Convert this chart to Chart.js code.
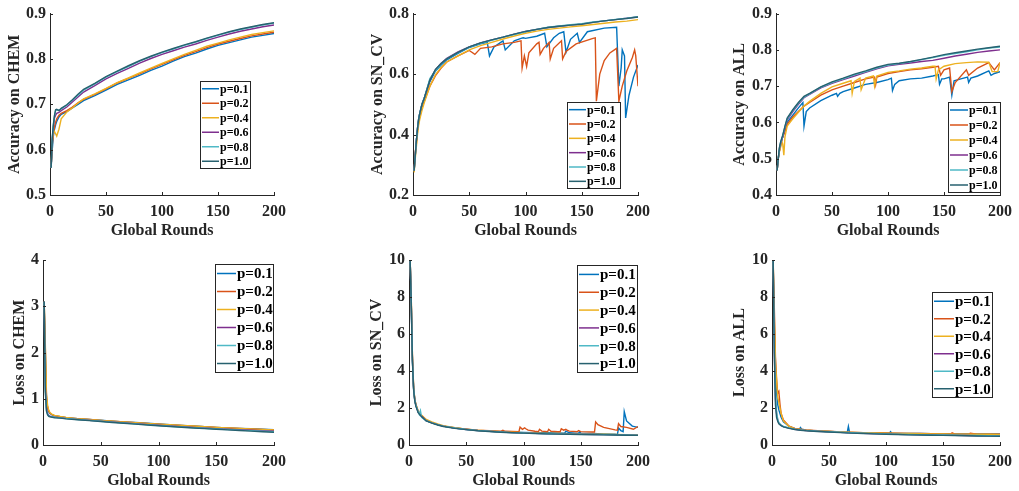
<!DOCTYPE html>
<html>
<head>
<meta charset="utf-8">
<script src="https://cdn.jsdelivr.net/npm/chart.js@4.4.0/dist/chart.umd.min.js"></script>
<style>
body{margin:0;background:#fff;width:1019px;height:491px;overflow:hidden;position:relative}
.pan{position:absolute}
</style>
</head>
<body>
<div class="pan" id="p1"><canvas></canvas></div>
<div class="pan" id="p2"><canvas></canvas></div>
<div class="pan" id="p3"><canvas></canvas></div>
<div class="pan" id="p4"><canvas></canvas></div>
<div class="pan" id="p5"><canvas></canvas></div>
<div class="pan" id="p6"><canvas></canvas></div>
<script>
// ---- data ----
var labels = ['p=0.1','p=0.2','p=0.4','p=0.6','p=0.8','p=1.0'];
var colors = ['#0072BD','#D95319','#EDB120','#7E2F8E','#4FB9C6','#27616F'];
var xTicks = [0, 50, 100, 150, 200];

var rounds = [1,2,3,4,5,6,8,10,15,20,25,30,40,50,60,70,80,90,100,110,120,130,140,150,160,170,180,190,200];

// Accuracy on CHEM
var accChem1  = [0.56,0.60,0.63,0.645,0.655,0.662,0.672,0.678,0.684,0.692,0.700,0.708,0.719,0.731,0.744,0.754,0.764,0.775,0.784,0.795,0.805,0.813,0.822,0.830,0.836,0.842,0.848,0.852,0.856];
var accChem2  = [0.56,0.61,0.635,0.65,0.66,0.668,0.676,0.68,0.686,0.694,0.703,0.711,0.722,0.734,0.747,0.757,0.767,0.778,0.788,0.798,0.808,0.816,0.825,0.833,0.839,0.845,0.851,0.855,0.859];
var accChem4  = [0.56,0.62,0.635,0.64,0.635,0.63,0.645,0.668,0.683,0.692,0.703,0.712,0.723,0.735,0.748,0.758,0.769,0.78,0.79,0.8,0.81,0.819,0.828,0.835,0.842,0.848,0.854,0.858,0.862];
var accChem6  = [0.56,0.62,0.65,0.67,0.676,0.68,0.682,0.686,0.694,0.705,0.716,0.727,0.741,0.756,0.768,0.779,0.791,0.801,0.81,0.818,0.826,0.833,0.841,0.848,0.855,0.861,0.866,0.871,0.875];
var accChem8  = [0.56,0.625,0.655,0.675,0.686,0.688,0.687,0.69,0.698,0.709,0.72,0.731,0.745,0.76,0.772,0.783,0.795,0.805,0.814,0.822,0.83,0.837,0.845,0.852,0.859,0.865,0.87,0.875,0.879];
var accChem10 = [0.56,0.625,0.655,0.675,0.688,0.689,0.686,0.691,0.699,0.71,0.722,0.733,0.746,0.761,0.773,0.785,0.796,0.806,0.815,0.823,0.831,0.838,0.846,0.853,0.86,0.866,0.871,0.876,0.88];

// Accuracy on SN_CV
var accSnR1  = [1,2,3,4,5,6,8,10,15,20,25,30,40,50,60,66,68,72,78,80,82,90,96,98,100,110,117,119,125,130,134,136,140,146,148,155,170,181,183,185,186,188,189,192,196,200];
var accSn1   = [0.28,0.33,0.38,0.42,0.45,0.47,0.5,0.52,0.575,0.61,0.63,0.647,0.668,0.688,0.7,0.705,0.66,0.69,0.705,0.71,0.68,0.71,0.718,0.72,0.718,0.725,0.735,0.69,0.72,0.735,0.74,0.672,0.715,0.735,0.705,0.74,0.752,0.755,0.56,0.62,0.68,0.66,0.455,0.53,0.59,0.63];
var accSnR2  = [1,2,3,4,5,6,8,10,15,20,25,30,40,50,55,60,70,80,90,96,97,99,101,103,110,112,113,116,121,122,125,132,133,136,145,160,162,163,166,170,175,181,183,186,190,195,197,198,200];
var accSn2   = [0.28,0.34,0.37,0.41,0.44,0.46,0.49,0.51,0.56,0.595,0.62,0.64,0.66,0.678,0.665,0.685,0.69,0.7,0.705,0.71,0.62,0.66,0.625,0.67,0.7,0.705,0.665,0.685,0.705,0.65,0.685,0.71,0.65,0.675,0.7,0.718,0.72,0.51,0.6,0.645,0.67,0.685,0.51,0.56,0.61,0.655,0.68,0.66,0.56];
var accSn4   = [0.275,0.32,0.36,0.4,0.43,0.45,0.48,0.505,0.56,0.598,0.622,0.64,0.66,0.68,0.694,0.705,0.716,0.726,0.735,0.742,0.748,0.752,0.756,0.76,0.764,0.768,0.772,0.775,0.78];
var accSn6   = [0.28,0.33,0.38,0.42,0.45,0.47,0.5,0.52,0.58,0.615,0.636,0.652,0.673,0.69,0.703,0.713,0.722,0.732,0.741,0.748,0.754,0.758,0.762,0.766,0.771,0.776,0.78,0.785,0.789];
var accSn8   = [0.28,0.33,0.38,0.42,0.45,0.47,0.5,0.52,0.585,0.612,0.634,0.65,0.671,0.689,0.702,0.712,0.722,0.731,0.74,0.748,0.755,0.759,0.763,0.767,0.772,0.776,0.781,0.785,0.79];
var accSn10  = [0.28,0.33,0.38,0.42,0.45,0.47,0.5,0.52,0.58,0.615,0.635,0.65,0.672,0.69,0.703,0.713,0.722,0.732,0.741,0.748,0.754,0.758,0.762,0.765,0.771,0.776,0.78,0.784,0.789];

// Accuracy on ALL
var accAllR1 = [1,2,3,4,5,6,8,10,15,20,24,25,27,30,40,50,54,55,57,60,70,80,90,100,103,104,106,110,120,130,140,145,146,148,150,155,157,159,165,171,172,174,180,190,192,195,200];
var accAll1  = [0.468,0.5,0.52,0.535,0.55,0.56,0.58,0.6,0.62,0.64,0.655,0.59,0.63,0.64,0.66,0.675,0.68,0.672,0.68,0.685,0.695,0.705,0.71,0.718,0.722,0.688,0.705,0.715,0.72,0.722,0.728,0.732,0.705,0.72,0.72,0.725,0.675,0.715,0.72,0.725,0.71,0.722,0.728,0.742,0.73,0.735,0.74];
var accAllR2 = [1,2,3,4,5,6,8,10,15,20,25,30,40,50,60,70,80,88,89,90,100,110,120,130,140,145,147,150,155,157,160,170,172,180,190,195,200];
var accAll2  = [0.468,0.5,0.52,0.535,0.55,0.56,0.575,0.595,0.615,0.63,0.645,0.655,0.675,0.69,0.7,0.71,0.72,0.725,0.705,0.725,0.735,0.74,0.745,0.748,0.752,0.755,0.73,0.745,0.75,0.685,0.71,0.745,0.73,0.75,0.765,0.745,0.765];
var accAllR4 = [1,2,3,4,5,6,7,8,10,15,20,25,30,40,50,60,67,68,70,75,76,80,87,88,90,100,110,120,130,140,142,143,145,150,160,170,180,190,193,195,198,200];
var accAll4  = [0.468,0.5,0.52,0.53,0.55,0.54,0.51,0.56,0.59,0.61,0.628,0.645,0.658,0.68,0.698,0.708,0.715,0.68,0.713,0.722,0.69,0.722,0.728,0.70,0.728,0.738,0.742,0.747,0.75,0.755,0.755,0.72,0.745,0.755,0.762,0.765,0.767,0.766,0.74,0.74,0.74,0.765];
var accAll6  = [0.468,0.5,0.525,0.54,0.55,0.56,0.585,0.607,0.63,0.65,0.668,0.677,0.695,0.708,0.718,0.728,0.738,0.748,0.756,0.76,0.764,0.768,0.771,0.777,0.783,0.788,0.793,0.797,0.8];
var accAll8  = [0.468,0.5,0.528,0.543,0.553,0.563,0.588,0.61,0.633,0.653,0.67,0.679,0.697,0.71,0.72,0.731,0.74,0.75,0.758,0.762,0.767,0.773,0.779,0.785,0.79,0.795,0.8,0.805,0.808];
var accAll10 = [0.468,0.5,0.53,0.545,0.555,0.565,0.59,0.612,0.635,0.655,0.672,0.68,0.698,0.712,0.722,0.733,0.742,0.752,0.76,0.763,0.768,0.774,0.78,0.787,0.792,0.797,0.802,0.806,0.81];

// Loss on CHEM
var lossChem1  = [3.1,2.0,1.0,0.8,0.72,0.68,0.65,0.63,0.61,0.59,0.58,0.57,0.555,0.535,0.515,0.5,0.485,0.47,0.455,0.44,0.425,0.41,0.395,0.38,0.37,0.36,0.35,0.34,0.33];
var lossChem2  = [3.1,2.1,1.05,0.82,0.73,0.69,0.655,0.635,0.612,0.592,0.58,0.568,0.55,0.53,0.512,0.496,0.48,0.465,0.45,0.436,0.422,0.408,0.394,0.38,0.368,0.357,0.346,0.336,0.326];
var lossChem4  = [3.1,2.2,1.1,0.85,0.75,0.7,0.66,0.64,0.615,0.595,0.582,0.57,0.552,0.532,0.514,0.498,0.482,0.467,0.452,0.438,0.424,0.41,0.396,0.382,0.37,0.359,0.348,0.338,0.328];
var lossChem6  = [3.1,1.3,0.8,0.68,0.64,0.625,0.612,0.603,0.59,0.575,0.565,0.555,0.536,0.517,0.498,0.48,0.462,0.445,0.428,0.412,0.397,0.382,0.368,0.355,0.342,0.33,0.318,0.307,0.296];
var lossChem8  = [3.1,1.2,0.75,0.66,0.63,0.62,0.61,0.6,0.587,0.572,0.562,0.551,0.532,0.513,0.494,0.475,0.457,0.44,0.423,0.406,0.39,0.375,0.361,0.347,0.334,0.322,0.31,0.299,0.288];
var lossChem10 = [3.1,1.15,0.73,0.65,0.62,0.61,0.6,0.59,0.58,0.565,0.555,0.545,0.526,0.507,0.488,0.469,0.451,0.433,0.416,0.399,0.383,0.368,0.353,0.339,0.326,0.313,0.3,0.288,0.276];

// Loss on SN_CV
var lossSnR1 = [1,2,3,4,5,6,8,10,15,20,25,30,40,50,60,70,80,90,100,110,120,130,136,137,140,148,149,150,160,170,180,182,183,185,187,188,190,195,200];
var lossSn1  = [10,7.6,4.6,3.1,2.45,2.15,1.8,1.62,1.32,1.2,1.1,1.02,0.92,0.85,0.79,0.75,0.72,0.7,0.68,0.67,0.66,0.65,0.64,0.75,0.66,0.63,0.72,0.64,0.62,0.6,0.58,0.56,0.92,0.78,0.72,1.8,1.3,1.02,0.95];
var lossSnR2 = [1,2,3,4,5,6,8,10,15,20,25,30,40,50,60,70,80,82,84,90,96,97,99,101,102,104,110,113,114,116,121,122,124,130,132,133,135,137,138,140,147,148,150,160,162,163,165,170,180,182,183,185,190,196,200];
var lossSn2  = [10,7.8,4.8,3.2,2.5,2.2,1.8,1.65,1.35,1.2,1.1,1.02,0.93,0.86,0.8,0.77,0.74,0.8,0.74,0.73,0.72,0.97,0.85,0.93,0.88,0.8,0.74,0.72,0.85,0.75,0.72,0.85,0.74,0.72,0.72,0.88,0.8,0.85,0.8,0.75,0.72,0.78,0.72,0.7,0.7,1.25,1.1,0.95,0.82,0.8,1.15,1.0,0.95,0.85,1.0];
var lossSn4  = [10,7.8,4.8,3.2,2.5,2.2,1.85,1.68,1.38,1.25,1.14,1.05,0.94,0.86,0.8,0.76,0.72,0.69,0.67,0.65,0.63,0.62,0.61,0.6,0.59,0.58,0.57,0.56,0.55];
var lossSn6  = [10,7.6,4.6,3.05,2.45,2.15,1.78,1.62,1.32,1.2,1.1,1.02,0.91,0.84,0.78,0.74,0.7,0.67,0.65,0.63,0.61,0.6,0.59,0.58,0.57,0.56,0.55,0.54,0.53];
var lossSnR8 = [1,2,3,4,5,6,8,9,10,11,12,15,20,25,30,40,50,60,70,80,90,100,110,120,130,140,150,160,170,180,190,200];
var lossSn8  = [10,7.6,4.6,3.1,2.45,2.15,1.8,1.65,1.85,1.5,1.45,1.32,1.2,1.1,1.02,0.92,0.84,0.78,0.74,0.7,0.67,0.65,0.63,0.61,0.6,0.59,0.58,0.57,0.56,0.55,0.54,0.53];
var lossSn10 = [10,7.5,4.5,3.0,2.4,2.1,1.75,1.6,1.3,1.18,1.08,1.0,0.9,0.83,0.77,0.73,0.69,0.66,0.64,0.62,0.6,0.59,0.58,0.57,0.56,0.55,0.54,0.53,0.52];

// Loss on ALL
var lossAllR1 = [1,2,3,4,5,6,8,10,15,20,24,25,26,30,40,50,60,66,67,68,80,90,100,103,104,105,110,120,130,140,150,160,170,180,190,200];
var lossAll1  = [10,6.5,3.8,2.8,2.2,1.9,1.5,1.25,1.0,0.88,0.86,0.95,0.85,0.8,0.76,0.73,0.7,0.68,1.0,0.68,0.66,0.65,0.64,0.64,0.72,0.64,0.63,0.62,0.62,0.61,0.61,0.6,0.6,0.6,0.6,0.6];
var lossAllR2 = [1,2,3,4,5,6,7,8,10,15,20,25,30,40,50,60,70,80,90,100,110,120,130,140,150,157,158,160,170,173,174,180,190,200];
var lossAll2  = [10,7.5,4.8,3.6,2.8,2.9,2.2,1.7,1.35,1.02,0.9,0.85,0.81,0.77,0.74,0.71,0.69,0.67,0.66,0.65,0.64,0.63,0.62,0.61,0.6,0.6,0.66,0.6,0.59,0.6,0.64,0.59,0.58,0.58];
var lossAll4  = [10,7.0,4.5,3.5,2.6,2.3,1.7,1.3,1.0,0.88,0.84,0.8,0.76,0.73,0.7,0.68,0.66,0.65,0.64,0.63,0.62,0.61,0.6,0.6,0.59,0.59,0.58,0.58,0.57];
var lossAll6  = [10,5.2,2.5,1.7,1.35,1.18,1.06,0.99,0.91,0.85,0.81,0.78,0.74,0.71,0.68,0.65,0.63,0.61,0.59,0.575,0.56,0.55,0.54,0.53,0.52,0.51,0.5,0.49,0.48];
var lossAll8  = [10,5.5,2.8,1.8,1.4,1.2,1.08,1.0,0.92,0.86,0.82,0.79,0.75,0.72,0.69,0.66,0.64,0.62,0.6,0.585,0.57,0.56,0.55,0.54,0.53,0.52,0.51,0.5,0.49];
var lossAll10 = [10,5.0,2.2,1.5,1.28,1.15,1.05,0.98,0.9,0.84,0.8,0.77,0.73,0.7,0.67,0.64,0.62,0.6,0.58,0.565,0.55,0.54,0.53,0.52,0.51,0.5,0.49,0.48,0.47];

// ---- drawing ----
Chart.defaults.font.family = "'Liberation Serif', 'Times New Roman', serif";
Chart.defaults.font.size = 16;
Chart.defaults.font.weight = 'bold';
Chart.defaults.color = '#262626';

// small inward tick marks like matlab
var inTicks = {
  id: 'inTicks',
  afterDraw: function(chart) {
    var a = chart.chartArea, ctx = chart.ctx;
    ctx.save();
    ctx.strokeStyle = '#262626';
    ctx.lineWidth = 1;
    chart.scales.x.ticks.forEach(function(t) {
      var px = Math.round(chart.scales.x.getPixelForValue(t.value)) + 0.5;
      ctx.beginPath(); ctx.moveTo(px, a.bottom); ctx.lineTo(px, a.bottom - 3); ctx.stroke();
    });
    chart.scales.y.ticks.forEach(function(t) {
      var py = Math.round(chart.scales.y.getPixelForValue(t.value)) + 0.5;
      ctx.beginPath(); ctx.moveTo(a.left, py); ctx.lineTo(a.left + 3, py); ctx.stroke();
    });
    ctx.restore();
  }
};

// boxed legend inside the axes
var boxLegend = {
  id: 'boxLegend',
  afterDraw: function(chart, args, o) {
    var ctx = chart.ctx;
    var x = o.x, y = o.y, w = o.w, h = o.h;
    ctx.save();
    ctx.fillStyle = '#fff';
    ctx.fillRect(x, y, w, h);
    ctx.strokeStyle = '#262626';
    ctx.lineWidth = 1;
    ctx.strokeRect(Math.round(x) + 0.5, Math.round(y) + 0.5, w, h);
    var rh = h / 6;
    ctx.font = 'bold ' + o.fs + "px 'Liberation Serif'";
    ctx.textBaseline = 'middle';
    ctx.textAlign = 'left';
    for (var i = 0; i < 6; i++) {
      var cy = y + rh * (i + 0.5) + 0.5;
      ctx.strokeStyle = colors[i];
      ctx.lineWidth = 1.5;
      ctx.beginPath(); ctx.moveTo(x + 2, cy); ctx.lineTo(x + 2 + o.ll, cy); ctx.stroke();
      ctx.fillStyle = '#000';
      ctx.fillText(labels[i], x + 3 + o.ll, cy + 1);
    }
    ctx.restore();
  }
};

function panel(id, box, area, yt, ymin, ymax, ystep, dec, series, leg) {
  var div = document.getElementById(id);
  div.style.left = box[0] + 'px';
  div.style.top = box[1] + 'px';
  div.style.width = box[2] + 'px';
  div.style.height = box[3] + 'px';
  var ds = [];
  for (var i = 0; i < 6; i++) {
    var pts = [];
    for (var j = 0; j < series[i][0].length; j++) {
      pts.push({x: series[i][0][j], y: series[i][1][j]});
    }
    ds.push({label: labels[i], data: pts, borderColor: colors[i], borderWidth: 1.4,
      pointRadius: 0, tension: 0, fill: false, order: 5 - i});
  }
  new Chart(div.querySelector('canvas'), {
    type: 'line',
    data: {datasets: ds},
    options: {
      responsive: true, maintainAspectRatio: false, animation: false,
      layout: {padding: {top: area[1] - box[1], right: box[0] + box[2] - area[2], left: 0, bottom: 0}},
      plugins: {
        legend: {display: false}, tooltip: {enabled: false},
        boxLegend: {x: leg[0] - box[0], y: leg[1] - box[1], w: leg[2], h: leg[3], fs: leg[4], ll: leg[5]}
      },
      scales: {
        x: {
          type: 'linear', min: 0, max: 200,
          afterBuildTicks: function(s) { s.ticks = xTicks.map(function(v) { return {value: v}; }); },
          ticks: {padding: 7, maxRotation: 0},
          grid: {display: true, drawOnChartArea: false, drawTicks: false},
          border: {color: '#262626', width: 1},
          title: {display: true, text: 'Global Rounds', padding: 0},
          afterFit: function(s) { s.height = box[1] + box[3] - area[3]; }
        },
        y: {
          min: ymin, max: ymax,
          ticks: {stepSize: ystep, padding: 4, callback: function(v) { return v.toFixed(dec); }},
          grid: {display: true, drawOnChartArea: false, drawTicks: false},
          border: {color: '#262626', width: 1},
          title: {display: true, text: yt, padding: 0},
          afterFit: function(s) { s.width = area[0] - box[0]; }
        }
      }
    },
    plugins: [inTicks, boxLegend]
  });
}

panel('p1', [5, 0, 288, 240], [50, 10, 278, 195], 'Accuracy on CHEM', 0.5, 0.9, 0.1, 1,
  [[rounds, accChem1], [rounds, accChem2], [rounds, accChem4], [rounds, accChem6], [rounds, accChem8], [rounds, accChem10]],
  [200, 81, 50, 87, 12, 17]);
panel('p2', [368, 0, 289, 240], [413, 10, 642, 195], 'Accuracy on SN_CV', 0.2, 0.8, 0.2, 1,
  [[accSnR1, accSn1], [accSnR2, accSn2], [rounds, accSn4], [rounds, accSn6], [rounds, accSn8], [rounds, accSn10]],
  [567, 102, 53, 86, 12, 17]);
panel('p3', [730, 0, 289, 240], [776, 10, 1004, 195], 'Accuracy on ALL', 0.4, 0.9, 0.1, 1,
  [[accAllR1, accAll1], [accAllR2, accAll2], [accAllR4, accAll4], [rounds, accAll6], [rounds, accAll8], [rounds, accAll10]],
  [948, 102, 52, 90, 12, 18]);
panel('p4', [10, 245, 283, 245], [43, 260, 278, 445], 'Loss on CHEM', 0, 4, 1, 0,
  [[rounds, lossChem1], [rounds, lossChem2], [rounds, lossChem4], [rounds, lossChem6], [rounds, lossChem8], [rounds, lossChem10]],
  [215, 264, 58, 108, 15, 19]);
panel('p5', [367, 245, 290, 245], [409, 260, 642, 445], 'Loss on SN_CV', 0, 10, 2, 0,
  [[lossSnR1, lossSn1], [lossSnR2, lossSn2], [rounds, lossSn4], [rounds, lossSn6], [lossSnR8, lossSn8], [rounds, lossSn10]],
  [577, 265, 60, 107, 15, 20]);
panel('p6', [730, 245, 289, 245], [772, 260, 1004, 445], 'Loss on ALL', 0, 10, 2, 0,
  [[lossAllR1, lossAll1], [lossAllR2, lossAll2], [rounds, lossAll4], [rounds, lossAll6], [rounds, lossAll8], [rounds, lossAll10]],
  [932, 292, 60, 105, 15, 20]);
</script>
</body>
</html>
